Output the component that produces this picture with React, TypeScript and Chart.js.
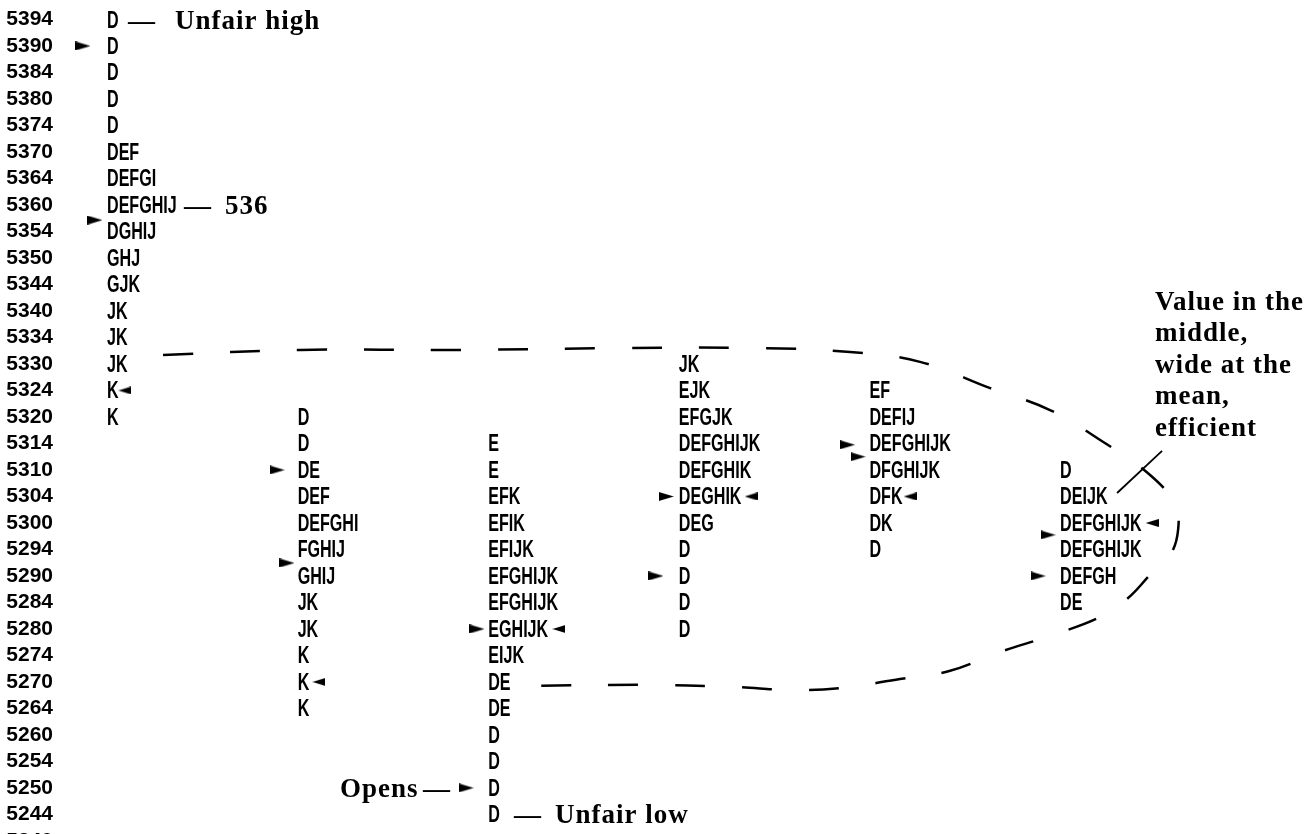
import { useEffect, useRef } from "react";
import { Chart, registerables } from "chart.js";

Chart.register(...registerables);

// Price levels (y-axis rows, top to bottom)
const priceLevels = [
  5394, 5390, 5384, 5380, 5374, 5370, 5364, 5360, 5354, 5350, 5344, 5340, 5334, 5330, 5324, 5320,
  5314, 5310, 5304, 5300, 5294, 5290, 5284, 5280, 5274, 5270, 5264, 5260, 5254, 5250, 5244, 5240,
];

// Profile columns (day index) and the top price of each profile
const profileColumns = [1, 2, 3, 4, 5, 6];
const profileTopPrices = [5394, 5320, 5314, 5330, 5324, 5310];

// TPO letters per price row, from the top price downwards
const profile1 = ["D", "D", "D", "D", "D", "DEF", "DEFGI", "DEFGHIJ", "DGHIJ", "GHJ", "GJK", "JK", "JK", "JK", "K", "K"];
const profile2 = ["D", "D", "DE", "DEF", "DEFGHI", "FGHIJ", "GHIJ", "JK", "JK", "K", "K", "K"];
const profile3 = ["E", "E", "EFK", "EFIK", "EFIJK", "EFGHIJK", "EFGHIJK", "EGHIJK", "EIJK", "DE", "DE", "D", "D", "D", "D"];
const profile4 = ["JK", "EJK", "EFGJK", "DEFGHIJK", "DEFGHIK", "DEGHIK", "DEG", "D", "D", "D", "D"];
const profile5 = ["EF", "DEFIJ", "DEFGHIJK", "DFGHIJK", "DFK", "DK", "D"];
const profile6 = ["D", "DEIJK", "DEFGHIJK", "DEFGHIJK", "DEFGH", "DE"];
const profiles = [profile1, profile2, profile3, profile4, profile5, profile6];

// Arrow markers (x in column units, y in row units)
const rightArrowX = [0.874, 0.937, 1.892, 1.944, 2.941, 2.884, 3.934, 3.88, 4.885, 4.94, 5.937, 5.885];
const rightArrowY = [1, 7.57, 17, 20.51, 23, 29, 18, 21, 16.05, 16.5, 19.45, 21];
const leftArrowX = [1.094, 2.112, 3.371, 4.379, 5.213, 6.483];
const leftArrowY = [14, 25, 23, 18, 18, 19];

// Dashed enclosing curve (column units, row units)
const curveX = [1.294, 2.013, 2.852, 3.692, 4.426, 4.898, 5.265, 5.633, 5.947, 6.21, 6.472, 6.603, 6.619, 6.577, 6.472, 6.357, 6.21, 5.947, 5.685, 5.423, 5.16, 4.846, 4.583, 4.295, 3.796, 3.219];
const curveY = [12.66, 12.47, 12.47, 12.4, 12.4, 12.55, 12.92, 13.91, 14.74, 15.87, 17.19, 18.32, 19.26, 20.21, 20.96, 21.83, 22.55, 23.26, 23.87, 24.58, 24.89, 25.23, 25.3, 25.19, 25.11, 25.15];

// Pointer line from the annotation to the last profile
const pointerX = [6.299, 6.535];
const pointerY = [17.87, 16.28];

// Annotation texts (x in column units, y in row units)
const annotationTexts = ["—", "Unfair high", "—", "536", "Opens", "—", "—", "Unfair low", "Value in the", "middle,", "wide at the", "mean,", "efficient"];
const annotationX = [1.11, 1.357, 1.404, 1.619, 2.222, 2.658, 3.135, 3.35, 6.498, 6.498, 6.498, 6.498, 6.498];
const annotationY = [0, 0, 7, 7, 29, 29, 30, 30, 10.62, 11.79, 12.99, 14.17, 15.38];

function makeTriangle(dir: number, w: number, h: number): HTMLCanvasElement {
  const c = document.createElement("canvas");
  c.width = w;
  c.height = h;
  const g = c.getContext("2d")!;
  g.fillStyle = "#000";
  g.beginPath();
  if (dir > 0) {
    g.moveTo(0, 0);
    g.lineTo(w, h / 2);
    g.lineTo(0, h);
  } else {
    g.moveTo(w, 0);
    g.lineTo(0, h / 2);
    g.lineTo(w, h);
  }
  g.closePath();
  g.fill();
  return c;
}

const textPlugin = {
  id: "profileText",
  afterDatasetsDraw(chart: any) {
    const ctx = chart.ctx as CanvasRenderingContext2D;
    const xs = chart.scales.x;
    const ys = chart.scales.y;
    ctx.save();
    ctx.fillStyle = "#000";
    ctx.textAlign = "left";
    ctx.textBaseline = "alphabetic";
    ctx.font = 'bold 23px "Liberation Sans", Arial, sans-serif';
    profiles.forEach((rows, p) => {
      const start = priceLevels.indexOf(profileTopPrices[p]);
      rows.forEach((txt, i) => {
        const px = xs.getPixelForValue(profileColumns[p]);
        const py = ys.getPixelForValue(start + i);
        ctx.save();
        ctx.translate(px, py + 8);
        ctx.scale(0.7, 1);
        ctx.fillText(txt, 0, 0);
        ctx.restore();
      });
    });
    ctx.font = 'bold 27px "Liberation Serif", "Times New Roman", serif';
    (ctx as any).letterSpacing = "1px";
    annotationTexts.forEach((t, i) => {
      ctx.fillText(t, xs.getPixelForValue(annotationX[i]), ys.getPixelForValue(annotationY[i]) + 9);
    });
    ctx.restore();
  },
};

export default function App() {
  const canvasRef = useRef<HTMLCanvasElement | null>(null);

  useEffect(() => {
    if (!canvasRef.current) return;
    const rightTri = makeTriangle(1, 15, 9);
    const leftTri = makeTriangle(-1, 13, 8);
    const chart = new Chart(canvasRef.current, {
      type: "scatter",
      data: {
        datasets: [
          {
            label: "curve",
            data: curveX.map((x, i) => ({ x, y: curveY[i] })),
            showLine: true,
            borderColor: "#000",
            borderWidth: 2.5,
            borderDash: [30, 37],
            tension: 0.4,
            pointRadius: 0,
            fill: false,
          },
          {
            label: "pointer",
            data: pointerX.map((x, i) => ({ x, y: pointerY[i] })),
            showLine: true,
            borderColor: "#000",
            borderWidth: 1.8,
            pointRadius: 0,
            fill: false,
          },
          {
            label: "right arrows",
            data: rightArrowX.map((x, i) => ({ x, y: rightArrowY[i] })),
            pointStyle: rightTri as any,
            pointRadius: 5,
            showLine: false,
          },
          {
            label: "left arrows",
            data: leftArrowX.map((x, i) => ({ x, y: leftArrowY[i] })),
            pointStyle: leftTri as any,
            pointRadius: 5,
            showLine: false,
          },
        ],
      },
      options: {
        animation: false,
        responsive: true,
        maintainAspectRatio: false,
        events: [],
        layout: { padding: 0, autoPadding: false },
        plugins: { legend: { display: false }, tooltip: { enabled: false } },
        scales: {
          x: {
            type: "linear",
            display: false,
            min: 0.7534,
            max: 7.311,
          },
          y: {
            type: "linear",
            reverse: true,
            min: -0.736,
            max: 31.72,
            grid: { display: false, drawTicks: false },
            border: { display: false },
            afterBuildTicks: (scale: any) => {
              scale.ticks = priceLevels.map((_, i) => ({ value: i }));
            },
            afterFit: (scale: any) => {
              scale.width = 60;
              scale.paddingTop = 0;
              scale.paddingBottom = 0;
              scale.paddingLeft = 0;
              scale.paddingRight = 0;
            },
            ticks: {
              autoSkip: false,
              padding: 7,
              color: "#000",
              font: { family: '"Liberation Sans", Arial, sans-serif', size: 21, weight: "bold" },
              callback: (v: any) => String(priceLevels[Math.round(Number(v))] ?? ""),
            },
          },
        },
      },
      plugins: [textPlugin],
    });
    return () => chart.destroy();
  }, []);

  return (
    <div style={{ position: "fixed", left: 0, top: 0, width: 1310, height: 860, background: "#fff" }}>
      <canvas ref={canvasRef} />
    </div>
  );
}
